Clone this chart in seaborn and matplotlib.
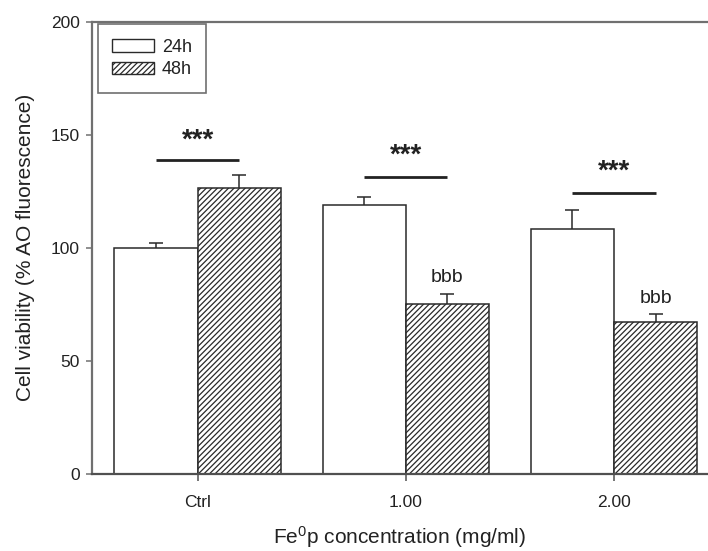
import numpy as np
import pandas as pd
import seaborn as sns
import matplotlib.pyplot as plt
from matplotlib.patches import Patch

# Data
concentrations = ['Ctrl', '1.00', '2.00']
times = ['24h', '48h']
viability_24h = [100.0, 118.8, 108.5]
viability_48h = [126.4, 75.4, 67.1]
sem_24h = [2.2, 3.7, 8.4]
sem_48h = [5.7, 4.0, 3.8]

# significance annotations (y in data units)
sig_line_y = [138.9, 131.3, 124.2]
sig_star_y = [149.7, 143.0, 136.0]
bbb_y = [None, 87.1, 77.6]

sns.set_style('ticks')
plt.rcParams['font.family'] = ['Liberation Sans', 'DejaVu Sans']
plt.rcParams['mathtext.default'] = 'regular'
plt.rcParams['hatch.linewidth'] = 0.9

df = pd.DataFrame({
    'conc': concentrations * 2,
    'time': [times[0]] * 3 + [times[1]] * 3,
    'viability': viability_24h + viability_48h,
})

fig = plt.figure(figsize=(7.08, 5.51), dpi=100)
ax = fig.add_axes([0.1295, 0.1397, 0.8705, 0.8209])

edge = '#2a2a2a'
hatch = '//////'
sns.barplot(data=df, x='conc', y='viability', hue='time', order=concentrations,
            hue_order=times, palette=['white', 'white'], edgecolor=edge,
            linewidth=1.1, errorbar=None, width=0.8, ax=ax)

for p in ax.containers[1]:
    p.set_hatch(hatch)

# upward-only error bars at bar centres
for cont, err in zip(ax.containers, [sem_24h, sem_48h]):
    xs = [p.get_x() + p.get_width() / 2 for p in cont]
    ys = [p.get_height() for p in cont]
    _, caps, _ = ax.errorbar(xs, ys, yerr=[np.zeros(len(err)), err], fmt='none',
                             ecolor=edge, elinewidth=1.1, capsize=4.7, capthick=1.1)
    caps[0].set_visible(False)

# significance bars
star_size = 20
for i in range(len(concentrations)):
    left = ax.containers[0][i]
    right = ax.containers[1][i]
    x0 = left.get_x() + left.get_width() / 2
    x1 = right.get_x() + right.get_width() / 2
    ax.plot([x0, x1], [sig_line_y[i], sig_line_y[i]], color='#222222', lw=2.0,
            solid_capstyle='butt')
    # asterisks sit high in the glyph box, so anchor on the baseline
    ax.annotate('***', xy=((x0 + x1) / 2, sig_star_y[i]),
                xytext=(0, -0.45 * star_size), textcoords='offset points',
                ha='center', va='baseline', fontsize=star_size,
                fontweight='bold', color='#222222')
    if bbb_y[i] is not None:
        ax.text(x1, bbb_y[i], 'bbb', ha='center', va='center', fontsize=14,
                color='#222222')

ax.set_xlim(-0.509, 2.452)
ax.set_ylim(0, 200)
ax.set_yticks([0, 50, 100, 150, 200])

spine_c = '#707070'
ax.spines['right'].set_visible(False)
for s in ['left', 'top', 'bottom']:
    ax.spines[s].set_color(spine_c)
    ax.spines[s].set_linewidth(1.6)
ax.spines['bottom'].set_color('#505050')

ax.tick_params(axis='y', length=4.3, width=1.1, pad=4.3, labelsize=12.5,
               color=spine_c, labelcolor='#222222')
ax.tick_params(axis='x', length=5, width=1.1, pad=10, labelsize=12.5,
               color='#505050', labelcolor='#222222')

ax.set_xlabel('Fe$^0$p concentration (mg/ml)', fontsize=15, labelpad=10,
              color='#222222')
ax.set_ylabel('Cell viability (% AO fluorescence)', fontsize=15, labelpad=11,
              color='#222222')

handles = [Patch(facecolor='white', edgecolor=edge, linewidth=1.0),
           Patch(facecolor='white', edgecolor=edge, linewidth=1.0, hatch=hatch)]
leg = ax.legend(handles, times, loc='upper left', bbox_to_anchor=(0.0102, 0.9943),
                borderaxespad=0, fontsize=13, handlelength=2.28, handleheight=0.67,
                handletextpad=0.46, labelspacing=0.3, borderpad=0.8,
                fancybox=False, framealpha=1)
leg.get_frame().set_edgecolor('#707070')
leg.get_frame().set_linewidth(1.2)
for t in leg.get_texts():
    t.set_color('#222222')

fig.savefig('out.png', dpi=100)
